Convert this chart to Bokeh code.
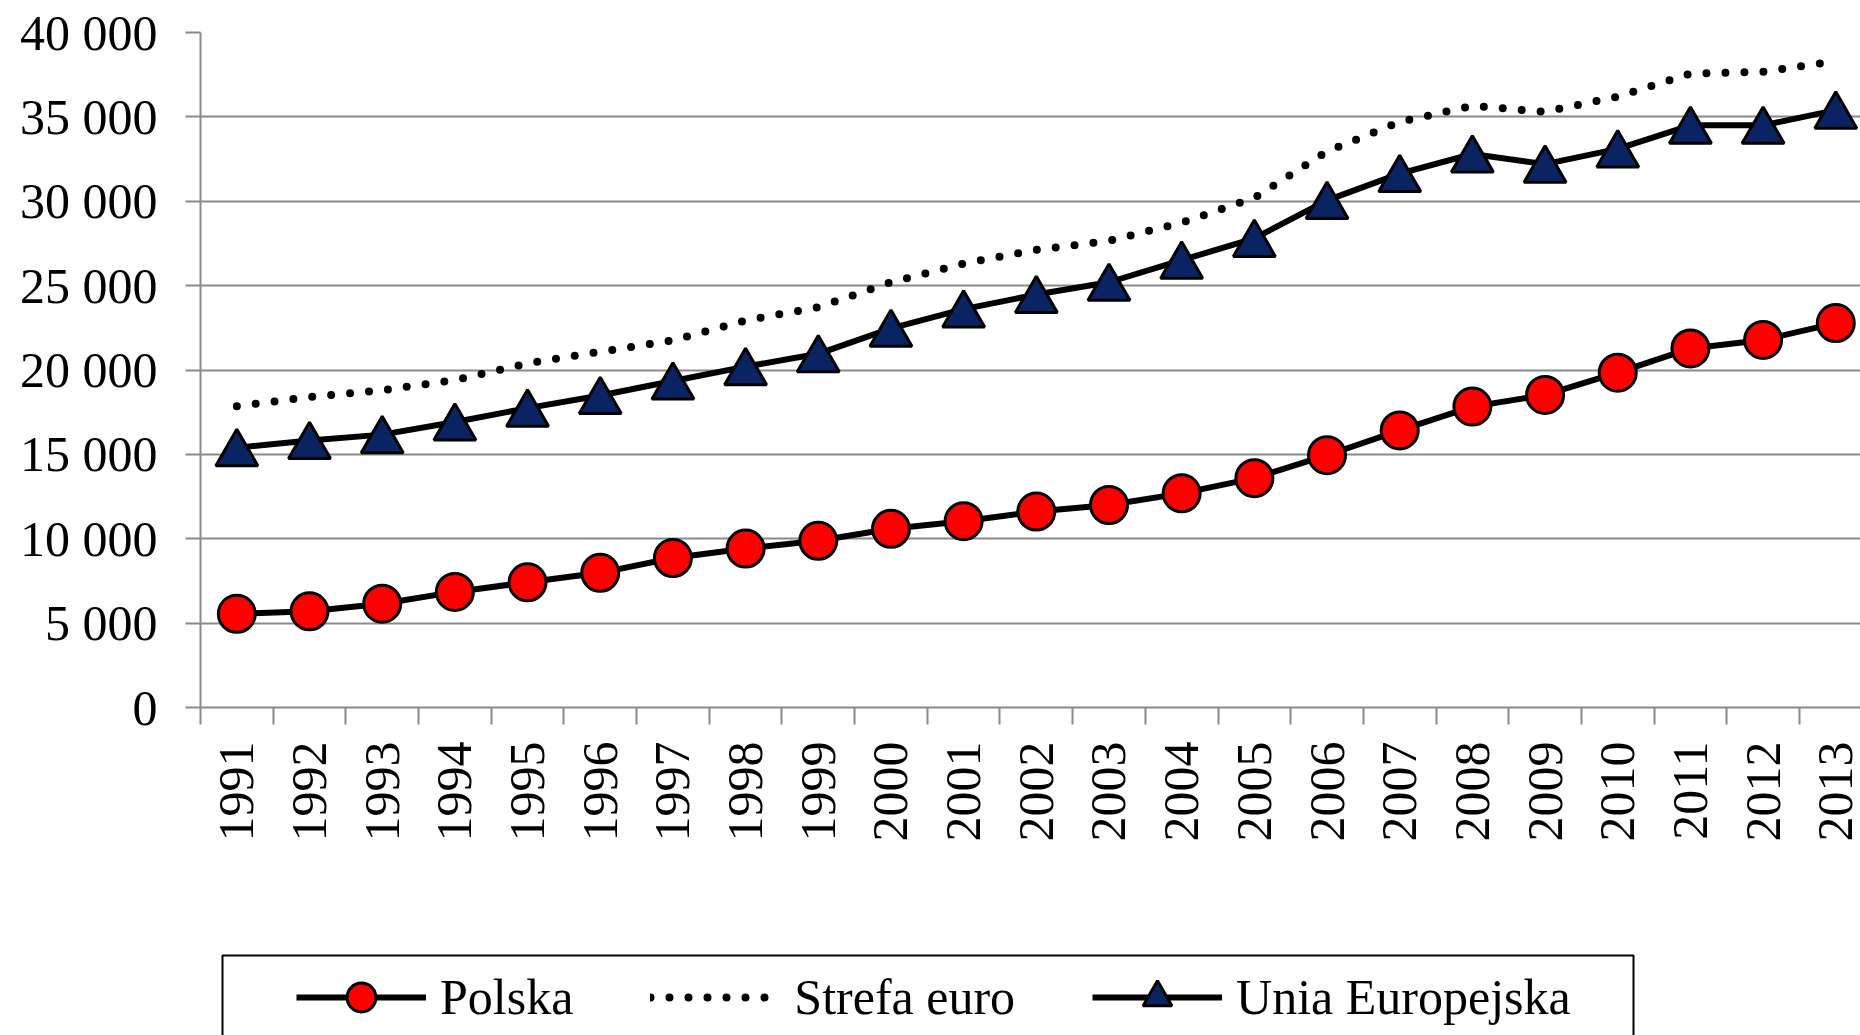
import math
from bokeh.plotting import figure
from bokeh.layouts import column
from bokeh.models import Range1d, FixedTicker, Legend, LegendItem, ColumnDataSource, BoxAnnotation
from bokeh.transform import dodge
from bokeh.embed import file_html
from bokeh.resources import INLINE

years = list(range(1991, 2014))
polska = [5550, 5700, 6150, 6850, 7420, 7980, 8860, 9420, 9880, 10590, 11040, 11610,
          12000, 12690, 13590, 14950, 16420, 17830, 18520, 19840, 21280, 21780, 22780]
strefa_euro = [17850, 18400, 18800, 19400, 20390, 21080, 21760, 22940, 23720, 25200, 26310, 27120,
               27650, 28730, 30200, 32950, 34700, 35650, 35300, 36200, 37570, 37670, 38300]
unia_europejska = [15400, 15820, 16170, 16920, 17740, 18490, 19350, 20200, 20960, 22470, 23610, 24470,
                   25200, 26510, 27800, 30050, 31640, 32800, 32200, 33100, 34500, 34500, 35400]
y_ticks = [0, 5000, 10000, 15000, 20000, 25000, 30000, 35000, 40000]
y_tick_labels = ["0", "5 000", "10 000", "15 000", "20 000", "25 000", "30 000", "35 000", "40 000"]
series_names = ["Polska", "Strefa euro", "Unia Europejska"]

src = ColumnDataSource(dict(year=years, pl=polska, ez=strefa_euro, ue=unia_europejska))

FONT = "Liberation Serif"
GRAY = "#8a8a8a"
NAVY = "#0a2463"

p = figure(width=1860, height=945, output_backend="svg", toolbar_location=None,
           x_range=Range1d(1990.5, 2013.34), y_range=Range1d(0, 40000),
           min_border_left=200, min_border_right=0, min_border_top=32, min_border_bottom=238)
p.outline_line_color = None
p.background_fill_color = "white"
p.border_fill_color = "white"

# axes
p.xgrid.visible = False
p.ygrid.grid_line_color = GRAY
p.ygrid.grid_line_width = 2
p.ygrid.ticker = FixedTicker(ticks=y_ticks)

p.yaxis.ticker = FixedTicker(ticks=y_ticks)
p.yaxis.major_label_overrides = {t: l for t, l in zip(y_ticks, y_tick_labels)}
p.yaxis.axis_line_color = GRAY
p.yaxis.axis_line_width = 2
p.yaxis.major_tick_line_color = GRAY
p.yaxis.major_tick_line_width = 2
p.yaxis.major_tick_out = 15
p.yaxis.major_tick_in = 0
p.yaxis.minor_tick_line_color = None
p.yaxis.major_label_standoff = 28
p.yaxis.major_label_text_font = FONT
p.yaxis.major_label_text_font_size = "50px"
p.yaxis.major_label_text_color = "black"

boundaries = [y - 0.5 for y in years] + [years[-1] + 0.5]
p.xaxis.ticker = FixedTicker(ticks=years, minor_ticks=boundaries)
p.xaxis.major_label_overrides = {y: str(y) for y in years}
p.xaxis.axis_line_color = GRAY
p.xaxis.axis_line_width = 2
p.xaxis.major_tick_line_color = None
p.xaxis.major_tick_out = 0
p.xaxis.major_tick_in = 0
p.xaxis.minor_tick_line_color = GRAY
p.xaxis.minor_tick_line_width = 2
p.xaxis.minor_tick_out = 17
p.xaxis.minor_tick_in = 0
p.xaxis.major_label_orientation = math.pi / 2
p.xaxis.major_label_standoff = 17
p.xaxis.major_label_text_font = FONT
p.xaxis.major_label_text_font_size = "50px"
p.xaxis.major_label_text_color = "black"


def draw_series(fig):
    ez_line = fig.line("year", "ez", source=src, line_color="black", line_width=8,
                       line_dash="0 19", line_cap="round")
    ue_line = fig.line("year", "ue", source=src, line_color="black", line_width=6)
    ue_pts = fig.scatter("year", dodge("ue", -350, range=fig.y_range), source=src, marker="triangle",
                         size=42, fill_color=NAVY, line_color="black", line_width=3)
    pl_line = fig.line("year", "pl", source=src, line_color="black", line_width=6)
    pl_pts = fig.scatter("year", "pl", source=src, marker="circle", size=37,
                         fill_color="#ff0000", line_color="black", line_width=3)
    return ez_line, ue_line, ue_pts, pl_line, pl_pts


draw_series(p)

# legend strip below the chart (its own figure; its series lie outside its visible range)
lg = figure(width=1860, height=90, output_backend="svg", toolbar_location=None,
            x_range=Range1d(0, 1), y_range=Range1d(0, 1),
            min_border_left=0, min_border_right=0, min_border_top=0, min_border_bottom=0)
lg.axis.visible = False
lg.grid.visible = False
lg.outline_line_color = None
lg.background_fill_color = "white"
lg.border_fill_color = "white"
ez_l, ue_l, ue_p, pl_l, pl_p = draw_series(lg)

# legend frame (screen units, relative to the strip's frame)
lg.add_layout(BoxAnnotation(left=22, right=1433, top=80, bottom=-30,
                            left_units="screen", right_units="screen",
                            top_units="screen", bottom_units="screen",
                            fill_color=None, fill_alpha=0, line_color="black",
                            line_width=2, line_alpha=1))

legend = Legend(items=[
    LegendItem(label=series_names[0], renderers=[pl_l, pl_p]),
    LegendItem(label=series_names[1], renderers=[ez_l]),
    LegendItem(label=series_names[2], renderers=[ue_l, ue_p]),
], orientation="horizontal", location=(96, 2), margin=0, padding=5,
    glyph_width=130, glyph_height=72, label_standoff=14, spacing=77,
    label_text_font=FONT, label_text_font_size="50px", label_text_color="black",
    border_line_color=None, background_fill_alpha=0)
lg.add_layout(legend, "center")

layout = column(p, lg, spacing=0)
open("out.html", "w").write(file_html(layout, INLINE))
